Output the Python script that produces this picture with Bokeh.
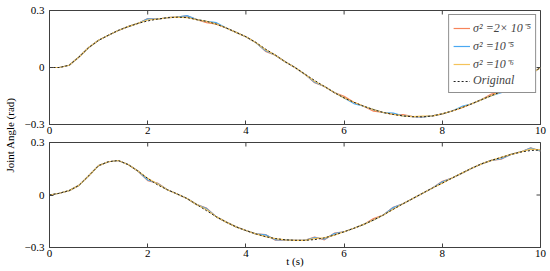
from bokeh.plotting import figure
from bokeh.layouts import row, column
from bokeh.models import (Range1d, FixedTicker, Legend, LegendItem,
                          ColumnDataSource, Label)
from bokeh.embed import file_html
from bokeh.resources import INLINE
import math

# ---------------- data ----------------
time = [0.0, 0.2, 0.4, 0.6, 0.8, 1.0, 1.2, 1.4, 1.6, 1.8,
        2.0, 2.2, 2.4, 2.6, 2.8, 3.0, 3.2, 3.4, 3.6, 3.8,
        4.0, 4.2, 4.4, 4.6, 4.8, 5.0, 5.2, 5.4, 5.6, 5.8,
        6.0, 6.2, 6.4, 6.6, 6.8, 7.0, 7.2, 7.4, 7.6, 7.8,
        8.0, 8.2, 8.4, 8.6, 8.8, 9.0, 9.2, 9.4, 9.6, 9.8, 10.0]

top_original = [0.000, 0.000, 0.012, 0.055, 0.105, 0.143, 0.170, 0.195, 0.215, 0.232,
                0.245, 0.255, 0.262, 0.265, 0.263, 0.252, 0.243, 0.228, 0.208, 0.185,
                0.162, 0.132, 0.097, 0.065, 0.030, 0.000, -0.035, -0.068, -0.100, -0.132,
                -0.160, -0.183, -0.204, -0.222, -0.237, -0.247, -0.255, -0.259, -0.260, -0.255,
                -0.244, -0.229, -0.211, -0.191, -0.169, -0.148, -0.127, -0.099, -0.068, -0.035, 0.000]
top_s2e5 = [0.000, 0.000, 0.012, 0.055, 0.105, 0.143, 0.170, 0.195, 0.215, 0.232,
            0.258, 0.255, 0.262, 0.265, 0.272, 0.252, 0.236, 0.228, 0.208, 0.185,
            0.162, 0.132, 0.085, 0.065, 0.030, 0.000, -0.035, -0.080, -0.100, -0.132,
            -0.152, -0.183, -0.204, -0.230, -0.237, -0.247, -0.248, -0.259, -0.260, -0.255,
            -0.244, -0.229, -0.211, -0.191, -0.169, -0.140, -0.127, -0.099, -0.076, -0.035, 0.000]
top_s1e5 = [0.000, 0.000, 0.012, 0.055, 0.105, 0.143, 0.170, 0.195, 0.215, 0.232,
            0.256, 0.255, 0.262, 0.265, 0.273, 0.252, 0.243, 0.236, 0.208, 0.185,
            0.162, 0.132, 0.088, 0.065, 0.030, 0.000, -0.035, -0.078, -0.100, -0.132,
            -0.160, -0.190, -0.204, -0.222, -0.237, -0.240, -0.255, -0.259, -0.260, -0.255,
            -0.244, -0.229, -0.205, -0.191, -0.169, -0.148, -0.133, -0.099, -0.068, -0.035, 0.000]
top_s1e6 = [0.000, 0.000, 0.012, 0.055, 0.105, 0.143, 0.170, 0.195, 0.215, 0.232,
            0.250, 0.255, 0.262, 0.265, 0.263, 0.252, 0.243, 0.228, 0.208, 0.185,
            0.162, 0.132, 0.093, 0.065, 0.030, 0.000, -0.035, -0.072, -0.100, -0.132,
            -0.160, -0.183, -0.204, -0.222, -0.237, -0.247, -0.255, -0.259, -0.256, -0.255,
            -0.244, -0.229, -0.211, -0.191, -0.169, -0.148, -0.127, -0.099, -0.068, -0.035, 0.000]

bot_original = [0.000, 0.010, 0.025, 0.055, 0.110, 0.168, 0.190, 0.197, 0.174, 0.137,
                0.095, 0.058, 0.030, 0.006, -0.020, -0.055, -0.090, -0.125, -0.155, -0.182,
                -0.203, -0.222, -0.238, -0.249, -0.256, -0.259, -0.259, -0.255, -0.245, -0.229,
                -0.210, -0.190, -0.168, -0.143, -0.114, -0.082, -0.050, -0.020, 0.010, 0.040,
                0.068, 0.097, 0.125, 0.153, 0.178, 0.198, 0.215, 0.232, 0.246, 0.254, 0.258]
bot_s2e5 = [0.000, 0.010, 0.025, 0.055, 0.110, 0.168, 0.190, 0.197, 0.174, 0.137,
            0.082, 0.068, 0.030, 0.006, -0.020, -0.055, -0.075, -0.125, -0.155, -0.182,
            -0.203, -0.222, -0.226, -0.258, -0.256, -0.259, -0.259, -0.240, -0.256, -0.218,
            -0.210, -0.190, -0.168, -0.135, -0.114, -0.070, -0.050, -0.020, 0.010, 0.040,
            0.078, 0.097, 0.125, 0.153, 0.178, 0.198, 0.205, 0.232, 0.246, 0.270, 0.250]
bot_s1e5 = [0.000, 0.010, 0.025, 0.055, 0.110, 0.168, 0.190, 0.197, 0.174, 0.137,
            0.086, 0.066, 0.030, 0.006, -0.020, -0.055, -0.078, -0.125, -0.155, -0.182,
            -0.203, -0.222, -0.228, -0.256, -0.256, -0.259, -0.259, -0.243, -0.253, -0.220,
            -0.210, -0.190, -0.168, -0.143, -0.114, -0.072, -0.050, -0.020, 0.010, 0.040,
            0.076, 0.097, 0.125, 0.153, 0.178, 0.198, 0.207, 0.232, 0.246, 0.268, 0.252]
bot_s1e6 = [0.000, 0.010, 0.025, 0.055, 0.110, 0.168, 0.190, 0.197, 0.174, 0.137,
            0.095, 0.063, 0.030, 0.006, -0.020, -0.055, -0.084, -0.125, -0.155, -0.182,
            -0.203, -0.222, -0.238, -0.249, -0.256, -0.259, -0.259, -0.249, -0.245, -0.229,
            -0.210, -0.190, -0.168, -0.143, -0.114, -0.082, -0.050, -0.020, 0.010, 0.040,
            0.068, 0.097, 0.125, 0.153, 0.178, 0.198, 0.215, 0.232, 0.246, 0.262, 0.258]

x_min, x_max = 0, 10
y_min, y_max = -0.3, 0.3
x_ticks = [0, 2, 4, 6, 8, 10]
y_ticks = [-0.3, 0, 0.3]
y_tick_labels = {-0.3: "\u22120.3", 0: "0", 0.3: "0.3"}
series_labels = ["\u03c3\u00b2 =2\u00d7 10\u207b\u2075", "\u03c3\u00b2 =10\u207b\u2075",
                 "\u03c3\u00b2 =10\u207b\u2076", "Original"]
x_label = "t (s)"
y_label = "Joint Angle (rad)"

# ---------------- style ----------------
FONT = "Liberation Serif"
ORANGE = "#F7845A"
BLUE = "#4AA8F2"
YELLOW = "#F4C35A"
AXC = "#404040"


def make_panel(height, top_border, orig, s1, s2, s3, with_legend, with_xlabel):
    p = figure(width=532, height=height, output_backend="svg", toolbar_location=None,
               x_range=Range1d(x_min, x_max), y_range=Range1d(y_min, y_max),
               min_border_top=top_border, min_border_left=31, min_border_right=10,
               min_border_bottom=0)
    p.background_fill_color = "white"
    p.border_fill_color = "white"
    p.outline_line_color = AXC
    p.xgrid.visible = False
    p.ygrid.visible = False

    src = ColumnDataSource(dict(t=time, o=orig, a=s1, b=s2, c=s3))
    ra = p.line("t", "a", source=src, line_color=ORANGE, line_width=1.2)
    rb = p.line("t", "b", source=src, line_color=BLUE, line_width=1.2)
    rc = p.line("t", "c", source=src, line_color=YELLOW, line_width=1.2)
    ro = p.line("t", "o", source=src, line_color="#222222", line_width=1, line_dash="2 2")

    # mirrored inward ticks on top and right edges (half of each dash is clipped by the frame)
    p.scatter(x=x_ticks, y=[y_max] * len(x_ticks), marker="dash", angle=math.pi / 2,
              size=8, line_color=AXC, line_width=1)
    p.scatter(x=[x_max] * len(y_ticks), y=y_ticks, marker="dash", angle=0,
              size=8, line_color=AXC, line_width=1)

    xa = p.below[0]
    ya = p.left[0]
    xa.ticker = FixedTicker(ticks=x_ticks)
    ya.ticker = FixedTicker(ticks=y_ticks)
    ya.major_label_overrides = y_tick_labels
    ya.major_label_standoff = 5
    xa.major_label_standoff = 2
    for ax in (xa, ya):
        ax.minor_tick_line_color = None
        ax.major_tick_in = 4
        ax.major_tick_out = 0
        ax.axis_line_color = AXC
        ax.major_tick_line_color = AXC
        ax.major_label_text_font = FONT
        ax.major_label_text_font_size = "11px"
        ax.major_label_text_color = "black"

    if with_xlabel:
        xa.axis_label = x_label
        xa.axis_label_text_font = FONT
        xa.axis_label_text_font_style = "normal"
        xa.axis_label_text_font_size = "11px"
        xa.axis_label_text_color = "black"
        xa.axis_label_standoff = -5

    if with_legend:
        legend = Legend(items=[LegendItem(label=series_labels[0], renderers=[ra]),
                               LegendItem(label=series_labels[1], renderers=[rb]),
                               LegendItem(label=series_labels[2], renderers=[rc]),
                               LegendItem(label=series_labels[3], renderers=[ro])],
                        location="top_right")
        legend.border_line_color = "#222222"
        legend.border_line_width = 1
        legend.background_fill_color = "white"
        legend.background_fill_alpha = 1
        legend.label_text_font = FONT
        legend.label_text_font_style = "italic"
        legend.label_text_font_size = "12px"
        legend.glyph_width = 17
        legend.glyph_height = 14
        legend.label_height = 14
        legend.label_standoff = 3
        legend.spacing = 1
        legend.padding = 4
        legend.margin = 4
        p.add_layout(legend)
    return p


p1 = make_panel(136, 10, top_original, top_s2e5, top_s1e5, top_s1e6, True, False)
p2 = make_panel(133, 6, bot_original, bot_s2e5, bot_s1e5, bot_s1e6, False, True)

lf = figure(width=18, height=269, output_backend="svg", toolbar_location=None,
            x_range=Range1d(0, 1), y_range=Range1d(0, 1), min_border=0,
            x_axis_location=None, y_axis_location=None)
lf.grid.visible = False
lf.outline_line_color = None
lf.background_fill_color = "white"
lf.border_fill_color = "white"
lf.add_layout(Label(x=0.5, y=0.5, text=y_label, angle=math.pi / 2,
                    text_align="center", text_baseline="middle",
                    text_font=FONT, text_font_size="11px", text_color="black"))

layout = row(lf, column(p1, p2))
open("out.html", "w").write(file_html(layout, INLINE))
